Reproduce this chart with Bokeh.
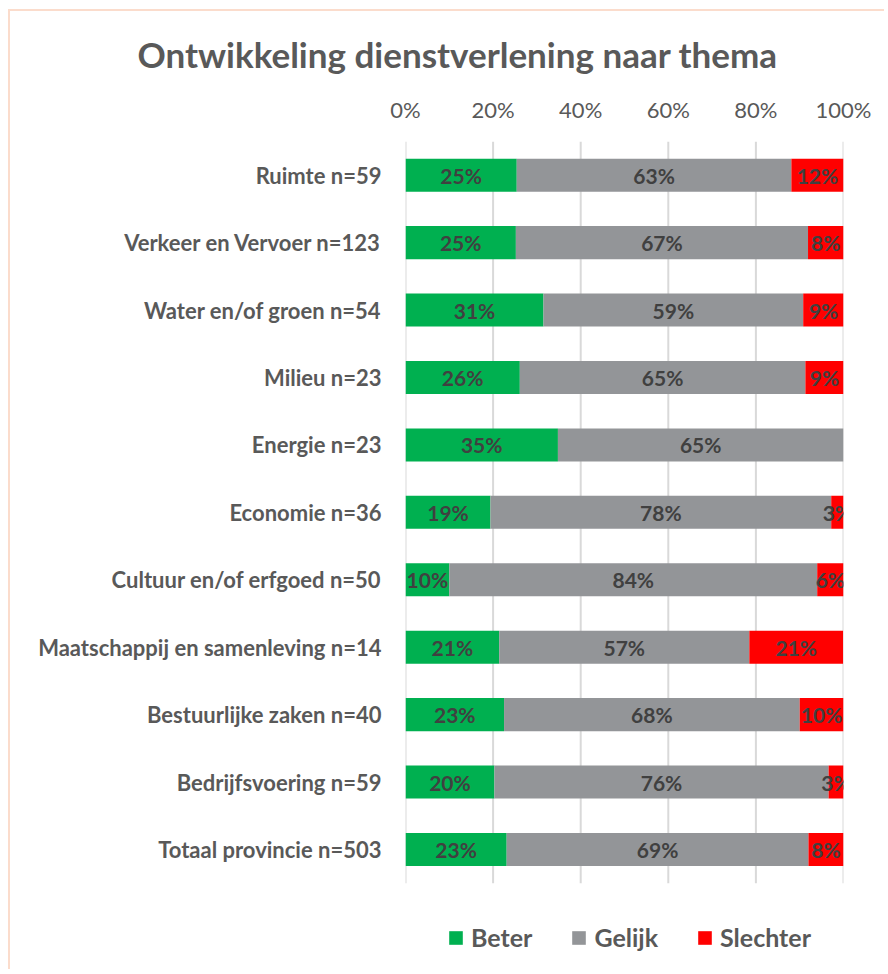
from bokeh.plotting import figure
from bokeh.models import (ColumnDataSource, FixedTicker, Legend, LegendItem, PrintfTickFormatter,
                          Range1d, Title)
from bokeh.embed import file_html
from bokeh.resources import INLINE
from bokeh.core.properties import value

categories = ["Ruimte n=59", "Verkeer en Vervoer n=123", "Water en/of groen n=54", "Milieu n=23",
              "Energie n=23", "Economie n=36", "Cultuur en/of erfgoed n=50",
              "Maatschappij en samenleving n=14", "Bestuurlijke zaken n=40",
              "Bedrijfsvoering n=59", "Totaal provincie n=503"]
series = ["Beter", "Gelijk", "Slechter"]
beter = [25.4, 25.2, 31.5, 26.1, 34.8, 19.4, 10.0, 21.4, 22.5, 20.3, 23.1]
gelijk = [62.7, 66.7, 59.3, 65.2, 65.2, 77.8, 84.0, 57.1, 67.5, 76.3, 68.9]
slechter = [11.9, 8.1, 9.3, 8.7, 0.0, 2.8, 6.0, 21.4, 10.0, 3.4, 8.0]
beter_labels = ["25%", "25%", "31%", "26%", "35%", "19%", "10%", "21%", "23%", "20%", "23%"]
gelijk_labels = ["63%", "67%", "59%", "65%", "65%", "78%", "84%", "57%", "68%", "76%", "69%"]
slechter_labels = ["12%", "8%", "9%", "9%", "", "3%", "6%", "21%", "10%", "3%", "8%"]
x_ticks = [0, 20, 40, 60, 80, 100]

colors = ["#00B050", "#939598", "#FF0000"]
FONT = "Lato"
TXT = "#595959"

n = len(categories)
ypos = [n - 1 - i for i in range(n)]

p = figure(x_range=Range1d(0, 100), y_range=Range1d(-1.81, n - 0.5), width=876, height=960,
           output_backend="svg", toolbar_location=None, x_axis_location="above",
           min_border_left=395, min_border_right=43, min_border_top=130, min_border_bottom=0)

# vertical gridlines limited to the bar area
gsrc = ColumnDataSource(dict(x=x_ticks, y0=[-0.5] * len(x_ticks), y1=[n - 0.5] * len(x_ticks)))
p.segment(x0="x", y0="y0", x1="x", y1="y1", source=gsrc, line_color="#d9d9d9", line_width=2)

src = ColumnDataSource(dict(y=ypos, Beter=beter, Gelijk=gelijk, Slechter=slechter))
rs = p.hbar_stack(series, y="y", height=0.49, color=colors, line_color=None, source=src)

# value labels
xs, ys, ts = [], [], []
for i in range(n):
    left = 0.0
    for vals, labs in ((beter, beter_labels), (gelijk, gelijk_labels), (slechter, slechter_labels)):
        v = vals[i]
        if v > 0 and labs[i]:
            xs.append(left + v / 2)
            ys.append(ypos[i])
            ts.append(labs[i])
        left += v
lab_src = ColumnDataSource(dict(x=xs, y=ys, t=ts))
p.text(x="x", y="y", text="t", source=lab_src, text_align="center", text_baseline="middle",
       text_font=value(FONT), text_font_style="bold", text_font_size="21px", text_color="#404040")

# axes
p.xaxis.ticker = FixedTicker(ticks=x_ticks)
p.xaxis.formatter = PrintfTickFormatter(format="%d%%")
p.xaxis.axis_line_color = None
p.xaxis.major_tick_line_color = None
p.xaxis.minor_tick_line_color = None
p.xaxis.major_label_text_font = FONT
p.xaxis.major_label_text_font_size = "22px"
p.xaxis.major_label_text_color = TXT
p.xaxis.major_label_standoff = 13

p.yaxis.ticker = FixedTicker(ticks=ypos)
p.yaxis.major_label_overrides = {y: c for y, c in zip(ypos, categories)}
p.yaxis.axis_line_color = None
p.yaxis.major_tick_line_color = None
p.yaxis.minor_tick_line_color = None
p.yaxis.major_label_text_font = FONT
p.yaxis.major_label_text_font_style = "bold"
p.yaxis.major_label_text_font_size = "22px"
p.yaxis.major_label_text_color = TXT
p.yaxis.major_label_standoff = 18

p.xgrid.grid_line_color = None
p.ygrid.grid_line_color = None
p.outline_line_color = None

# title
p.add_layout(Title(text="Ontwikkeling dienstverlening naar thema", align="left", offset=-268,
                   standoff=35, text_font=FONT, text_font_style="bold", text_font_size="35px",
                   text_color=TXT), "above")

legend = Legend(items=[LegendItem(label=s, renderers=[r]) for s, r in zip(series, rs)],
                orientation="horizontal", location=(42, 19), border_line_color=None,
                background_fill_alpha=0, label_text_font=FONT, label_text_font_style="bold",
                label_text_font_size="25px", label_text_color=TXT, glyph_width=17,
                glyph_height=17, spacing=38, label_standoff=7, padding=0, margin=0)
p.add_layout(legend)

p.styles = {"margin-left": "8px", "margin-top": "9px",
            "border-left": "2px solid #fbdccc", "border-top": "2px solid #fbdccc"}

open("out.html", "w").write(file_html(p, INLINE))
